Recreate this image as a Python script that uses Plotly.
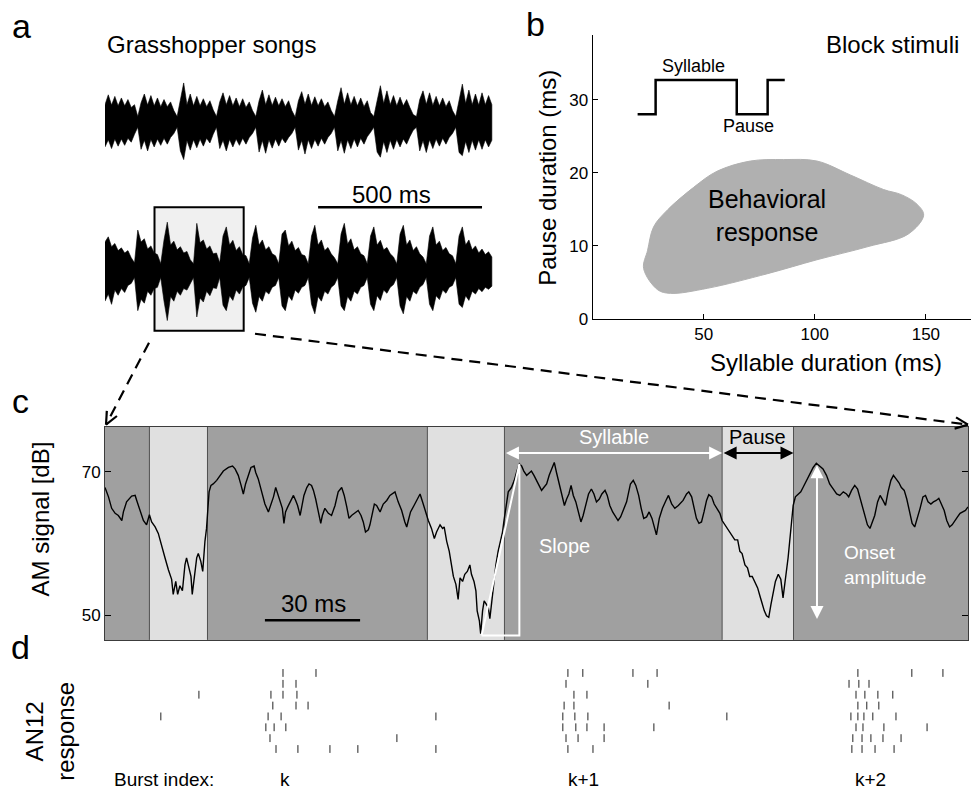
import math
import plotly.graph_objects as go

W, H = 971, 799
FONT = "Liberation Sans, Arial, Helvetica, sans-serif"


def px(x):
    return x / W


def py(y):
    return 1 - y / H


# ---------------- panel a: song envelopes (relative amplitude, 10 ms bins) ----
SAMPLE_MS = 10
song1_upper = [
    0.45, 0.70, 0.44, 0.66, 0.42, 0.62, 0.42, 0.58, 0.38, 0.45,
    0.15,
    0.50, 0.72, 0.44, 0.68, 0.42, 0.62, 0.40, 0.58, 0.40, 0.52, 0.30,
    0.15,
    0.55, 1.00, 0.45, 0.72, 0.42, 0.66, 0.42, 0.60, 0.40, 0.55, 0.32,
    0.15,
    0.52, 0.75, 0.45, 0.68, 0.42, 0.62, 0.40, 0.60, 0.38, 0.52, 0.30,
    0.15,
    0.55, 0.82, 0.45, 0.70, 0.43, 0.64, 0.42, 0.60, 0.40, 0.55, 0.30,
    0.14,
    0.55, 0.78, 0.46, 0.72, 0.43, 0.65, 0.42, 0.60, 0.40, 0.52, 0.30,
    0.15,
    0.55, 0.88, 0.46, 0.75, 0.44, 0.66, 0.42, 0.62, 0.40, 0.55, 0.25,
    0.15,
    0.55, 0.93, 0.48, 0.80, 0.45, 0.68, 0.42, 0.64, 0.42, 0.58, 0.38, 0.20,
    0.15,
    0.58, 0.80, 0.46, 0.75, 0.43, 0.66, 0.42, 0.62, 0.40, 0.55, 0.30,
    0.15,
    0.60, 0.97, 0.48, 0.82, 0.45, 0.72, 0.44, 0.75, 0.45, 0.68, 0.45,
]
song1_lower = [
    -0.62, -0.44, -0.66, -0.42, -0.60, -0.42, -0.58, -0.40, -0.50, -0.30,
    -0.12,
    -0.68, -0.45, -0.72, -0.43, -0.62, -0.42, -0.58, -0.40, -0.55, -0.38, -0.28,
    -0.12,
    -0.72, -0.94, -0.46, -0.70, -0.44, -0.64, -0.42, -0.60, -0.40, -0.52, -0.30,
    -0.12,
    -0.66, -0.45, -0.72, -0.43, -0.62, -0.42, -0.58, -0.40, -0.55, -0.38, -0.28,
    -0.12,
    -0.75, -0.46, -0.78, -0.44, -0.65, -0.42, -0.60, -0.40, -0.52, -0.38, -0.28,
    -0.12,
    -0.70, -0.46, -0.80, -0.44, -0.66, -0.43, -0.60, -0.40, -0.55, -0.38, -0.28,
    -0.12,
    -0.72, -0.46, -0.78, -0.44, -0.66, -0.42, -0.62, -0.40, -0.55, -0.36, -0.25,
    -0.12,
    -0.75, -0.88, -0.48, -0.76, -0.45, -0.68, -0.43, -0.62, -0.42, -0.55, -0.36, -0.20,
    -0.12,
    -0.72, -0.46, -0.76, -0.44, -0.66, -0.42, -0.60, -0.40, -0.55, -0.38, -0.28,
    -0.12,
    -0.76, -0.84, -0.48, -0.76, -0.45, -0.70, -0.44, -0.68, -0.44, -0.62, -0.45,
]
song2_upper = [
    0.70, 0.83, 0.58, 0.66, 0.48, 0.55, 0.42, 0.48, 0.30,
    0.17,
    1.00, 0.70, 0.78, 0.52, 0.60, 0.42, 0.38,
    0.15,
    0.75, 1.20, 0.62, 0.72, 0.50, 0.58, 0.42, 0.46, 0.25,
    0.15,
    1.17, 0.68, 0.75, 0.52, 0.60, 0.40, 0.42,
    0.17,
    0.85, 1.08, 0.62, 0.74, 0.48, 0.58, 0.38, 0.35,
    0.15,
    0.80, 1.12, 0.62, 0.75, 0.50, 0.58, 0.40, 0.35,
    0.15,
    0.90, 1.00, 0.60, 0.72, 0.48, 0.56, 0.38, 0.35,
    0.15,
    0.85, 1.12, 0.62, 0.75, 0.48, 0.56, 0.40, 0.30,
    0.15,
    0.90, 1.17, 0.65, 0.78, 0.50, 0.58, 0.40, 0.35,
    0.15,
    0.85, 1.08, 0.62, 0.74, 0.50, 0.56, 0.40, 0.32,
    0.15,
    0.90, 1.12, 0.62, 0.75, 0.48, 0.58, 0.40, 0.32,
    0.15,
    0.85, 1.08, 0.62, 0.72, 0.48, 0.56, 0.40, 0.35,
    0.15,
    0.85, 1.08, 0.62, 0.75, 0.50, 0.60, 0.42, 0.52, 0.38, 0.45, 0.32,
]
song2_lower = [
    -0.80, -0.62, -0.88, -0.52, -0.65, -0.48, -0.58, -0.40, -0.35,
    -0.20,
    -1.04, -0.75, -0.85, -0.55, -0.65, -0.48, -0.45,
    -0.20,
    -0.80, -1.29, -0.68, -0.80, -0.55, -0.65, -0.48, -0.52, -0.35,
    -0.20,
    -1.20, -0.72, -0.82, -0.55, -0.66, -0.46, -0.48,
    -0.20,
    -0.90, -1.04, -0.66, -0.78, -0.52, -0.62, -0.45, -0.40,
    -0.20,
    -0.85, -1.08, -0.68, -0.80, -0.55, -0.62, -0.45, -0.40,
    -0.20,
    -0.92, -1.04, -0.66, -0.78, -0.52, -0.60, -0.45, -0.40,
    -0.20,
    -0.88, -1.12, -0.68, -0.80, -0.55, -0.62, -0.45, -0.38,
    -0.20,
    -0.92, -1.04, -0.68, -0.80, -0.55, -0.62, -0.45, -0.40,
    -0.20,
    -0.88, -1.04, -0.66, -0.78, -0.52, -0.60, -0.45, -0.38,
    -0.20,
    -0.92, -1.12, -0.68, -0.80, -0.55, -0.62, -0.45, -0.38,
    -0.20,
    -0.88, -1.04, -0.66, -0.76, -0.52, -0.60, -0.45, -0.40,
    -0.20,
    -0.88, -0.96, -0.66, -0.78, -0.55, -0.62, -0.48, -0.56, -0.45, -0.50, -0.42,
]
song_offsets = [-1.6, -5.325]          # vertical placement of the two songs
zoom_window_ms = [151, 423]           # excerpt shown enlarged in panel c
scalebar_a_ms = [650, 1150]

# ---------------- panel b: behavioural response region -----------------------
blob_syllable_ms = [23, 24.8, 27.5, 33.7, 45.5, 56, 71, 86, 101, 116, 131,
                    139, 146, 149, 142, 124, 101, 78.8, 51.8, 35, 29.3]
blob_pause_ms = [6.9, 9.4, 12.6, 14.9, 18, 20.2, 21.6, 21.8, 21.6, 19.7, 17.7,
                 17, 15.7, 14.2, 11.6, 9.9, 8.1, 6.2, 4.2, 3.5, 4.0]
block_x = [20.3, 28.4, 28.4, 64.9, 64.9, 78.8, 78.8, 86.5]
block_y = [28, 28, 32.7, 32.7, 28, 28, 32.7, 32.7]

# ---------------- panel c: AM signal ----------------------------------------
am_time_ms = [
    0.0, 1.1, 2.1, 3.2, 4.2, 5.3, 5.8, 6.8, 8.4, 9.5, 10.0, 11.0, 12.1, 13.1,
    14.0, 14.7, 15.8, 16.8, 17.9, 18.9, 20.0, 21.0, 21.5, 22.3, 22.9, 23.6,
    24.4, 25.2, 25.7, 26.5, 27.1, 27.5, 28.2, 28.9, 29.4, 30.2, 30.8, 31.1,
    31.5, 32.0, 32.4, 32.8, 33.4, 34.1, 35.2, 36.2, 37.3, 38.9, 40.2, 41.0,
    42.0, 42.9, 43.6, 44.3, 45.2, 46.0, 47.0, 47.5, 48.3, 49.4, 50.4, 51.5,
    52.2, 53.1, 53.8, 54.4, 55.2, 55.9, 56.4, 56.9, 57.6, 58.3, 59.4, 60.1,
    60.7, 61.5, 62.0, 62.7, 63.6, 64.3, 65.1, 65.7, 66.4, 67.2, 68.0, 68.5,
    69.3, 70.4, 71.4, 72.5, 73.5, 74.6, 75.4, 76.2, 76.9, 77.7, 78.8, 79.8,
    80.7, 81.4, 82.1, 83.0, 83.5, 84.0, 84.9, 85.6, 86.7, 87.7, 88.8, 89.8,
    91.4, 92.4, 93.5, 94.5, 95.1, 95.6, 96.3, 97.4, 98.2, 99.3, 100.3, 101.1,
    101.9, 102.9, 103.8, 104.5, 105.6, 106.4, 106.9, 107.7, 108.5, 109.2,
    109.8, 110.6, 111.3, 111.9, 112.7, 113.4, 114.2, 115.0, 115.5, 116.3,
    116.9, 117.3, 118.0, 118.4, 119.0, 119.5, 120.3, 120.8, 121.3, 121.8,
    122.6, 123.2, 123.9, 124.7, 125.3, 125.7, 126.4, 127.1, 128.1, 129.0,
    129.7, 130.6, 131.3, 132.0, 132.9, 133.7, 134.4, 135.2, 136.0, 136.9,
    137.6, 138.3, 139.2, 140.0, 140.9, 141.6, 142.3, 143.2, 144.0, 144.8,
    145.5, 146.2, 146.9, 147.6, 148.4, 149.2, 150.0, 150.7, 151.6, 152.4,
    153.3, 154.1, 154.9, 155.8, 156.6, 157.6, 158.3, 159.1, 160.0, 160.8,
    161.7, 162.5, 163.3, 164.4, 165.6, 166.5, 167.3, 168.2, 169.0, 169.8,
    170.7, 171.5, 172.4, 173.2, 173.8, 174.7, 175.7, 176.8, 177.6, 178.6,
    179.6, 180.7, 182.2, 183.3, 184.0, 184.9, 185.7, 186.4, 187.2, 188.0,
    188.8, 189.6, 190.3, 191.2, 192.0, 192.8, 193.8, 194.5, 195.4, 196.4,
    197.5, 198.5, 199.4, 200.1, 200.8, 201.7, 202.5, 203.2, 204.0, 204.8,
    205.7, 206.4, 207.1, 207.8, 208.5, 209.2, 209.9, 210.6, 211.3, 212.2,
    213.0, 213.7, 214.3, 214.8, 215.3, 215.8, 216.4, 216.9, 217.6, 218.5,
    219.3, 220.0, 221.1, 222.1, 223.2, 224.2, 225.3, 226.3, 227.4, 228.4,
    229.5, 230.6, 231.6, 232.7, 233.7, 234.4, 235.3, 236.3, 237.2, 237.9,
    238.6, 239.5, 240.3, 241.1, 241.8, 242.6, 243.5, 244.3, 245.2, 246.0,
    246.8, 247.7, 248.5, 249.4, 250.2, 251.0, 251.9, 252.7, 253.6, 254.4,
    255.2, 256.1, 256.9, 257.8, 258.6, 259.4, 260.3, 261.1, 262.0, 262.8,
    263.6, 264.5, 265.3, 266.2, 267.0, 267.8, 268.7, 269.5, 270.4, 271.2,
    272.0,
]
am_level_db = [
    67.8, 66.5, 64.9, 64.2, 63.9, 63.2, 64.4, 65.8, 66.6, 66.7, 66.0, 64.6, 63.2, 62.6,
    64.0, 63.0, 62.3, 61.4, 59.8, 58.0, 56.3, 55.0, 52.9, 54.7, 52.9, 54.1,
    53.4, 57.0, 58.0, 56.6, 55.4, 52.9, 55.2, 58.0, 58.6, 57.5, 56.1, 58.6,
    60.3, 62.1, 65.1, 67.2, 68.1, 68.3, 68.8, 69.5, 70.1, 70.6, 70.8, 70.4,
    69.5, 68.1, 66.9, 68.3, 69.5, 70.6, 70.8, 69.9, 69.0, 67.2, 65.5, 64.4,
    65.3, 66.5, 67.8, 66.9, 65.8, 64.9, 62.8, 64.4, 65.1, 65.8, 66.7, 66.0,
    65.3, 63.9, 65.3, 66.7, 67.8, 68.3, 68.1, 67.4, 66.2, 64.4, 62.8, 63.9,
    64.9, 64.2, 63.9, 65.3, 67.2, 67.8, 66.7, 65.1, 63.5, 63.9, 64.3, 64.6,
    63.9, 63.0, 61.6, 61.9, 62.6, 63.7, 65.5, 65.3, 64.4, 65.5, 66.0, 66.7,
    67.2, 65.8, 64.6, 63.0, 62.3, 63.2, 64.4, 65.3, 66.0, 66.9, 65.5, 64.2,
    63.2, 62.1, 60.7, 61.6, 62.6, 62.1, 62.3, 60.3, 58.9, 57.0,
    55.4, 54.3, 52.2, 55.2, 54.7, 55.7, 56.1, 57.0, 55.7, 54.7,
    53.4, 50.6, 49.2, 47.4, 50.6, 52.0, 51.5, 51.1, 49.5, 51.5,
    54.7, 57.0, 58.9, 60.3, 61.6, 63.0, 65.3, 67.2, 67.8, 68.8,
    69.9, 71.1, 70.8, 70.1, 69.5, 69.9, 70.1, 69.5, 68.8, 68.1,
    67.4, 67.8, 68.3, 69.5, 70.6, 71.3, 69.9, 68.1, 66.5, 65.3,
    66.2, 66.9, 68.1, 66.7, 65.8, 64.2, 63.0, 63.9, 65.3, 66.9,
    67.6, 66.9, 65.8, 66.2, 66.9, 67.4, 66.7, 65.3, 64.4, 63.9,
    63.2, 63.7, 64.6, 65.8, 68.3, 68.8, 68.1, 66.7, 64.9, 63.5,
    63.7, 64.4, 63.5, 62.3, 61.2, 63.5, 64.9, 66.0, 66.7, 65.5,
    64.9, 65.3, 66.0, 66.9, 67.2, 66.5, 64.9, 63.5, 62.8, 63.0,
    64.4, 66.0, 66.8, 66.5, 65.5, 64.9, 64.2, 63.2, 62.6, 61.9,
    61.2, 60.5, 60.5, 58.9, 58.6, 57.0, 56.6, 55.4, 55.4, 54.7,
    53.8, 52.7, 51.5, 50.6, 49.9, 49.7, 51.5, 52.9, 54.7, 55.7,
    55.0, 52.4, 54.3, 56.1, 58.0, 60.3, 63.5, 65.3, 66.5, 66.9,
    67.2, 67.8, 68.8, 69.7, 70.6, 71.2, 70.8, 70.4, 69.5, 68.3,
    67.6, 66.9, 66.7, 67.2, 66.9, 66.5, 67.4, 68.1, 67.6, 66.5,
    65.3, 63.9, 62.6, 62.1, 63.0, 63.9, 65.8, 66.7, 66.0, 65.3,
    67.2, 68.8, 69.5, 69.0, 68.5, 67.8, 67.4, 66.2, 64.4, 62.8,
    62.3, 63.5, 64.9, 66.5, 66.7, 65.8, 65.5, 65.8, 66.0, 66.3,
    65.5, 64.6, 63.2, 62.3, 62.6, 63.2, 63.7, 64.2, 64.4, 64.6,
    65.1,
]
pause_start_ms = [14.0, 101.6, 194.5]
pause_end_ms = [32.3, 125.9, 217.0]
slope_ms = [118.7, 130.6]
slope_db = [47.15, 71.1]
onset_ms = 224.4
onset_db = [71.1, 49.45]
scalebar_c_ms = [50.4, 80.4]

# ---------------- panel d: AN12 spike raster ----------------------------------
spike_times_ms = [
    [56.1, 66.5, 145.9, 150.6, 166.4, 174.0, 237.3, 254.3, 264.1],
    [56.1, 60.2, 145.3, 171.1, 234.5, 237.6, 240.8],
    [29.6, 52.3, 56.1, 60.5, 147.8, 151.9, 236.7, 239.5, 243.6, 248.3],
    [52.9, 60.2, 64.0, 144.7, 147.8, 177.8, 237.3, 240.1, 243.9],
    [17.6, 51.4, 55.5, 104.3, 144.3, 148.1, 152.2, 196.0, 235.1, 237.3, 239.2, 242.0, 249.3],
    [50.7, 53.3, 57.0, 144.3, 148.4, 151.9, 157.3, 173.0, 236.7, 238.9, 245.5, 259.1],
    [52.0, 92.0, 145.3, 149.1, 157.3, 235.7, 238.6, 241.4, 245.2, 250.9],
    [53.9, 60.8, 70.9, 79.7, 104.3, 145.9, 153.8, 235.4, 238.6, 242.7, 248.7],
]
burst_labels = ["k", "k+1", "k+2"]
burst_label_ms = [54.5, 145.3, 235.7]

DARK = "rgb(160,160,160)"
LIGHT = "rgb(224,224,224)"

fig = go.Figure()

# ---- panel a traces
for upper, lower, off in [(song1_upper, song1_lower, song_offsets[0]),
                          (song2_upper, song2_lower, song_offsets[1])]:
    t = [i * SAMPLE_MS for i in range(len(upper))]
    xs = t + t[::-1]
    ys = [off + v for v in upper] + [off + v for v in lower[::-1]]
    fig.add_trace(go.Scatter(x=xs, y=ys, mode="lines", fill="toself",
                             fillcolor="black", line=dict(color="black", width=0.6),
                             xaxis="x", yaxis="y", hoverinfo="skip"))

# ---- panel b traces
fig.add_trace(go.Scatter(x=blob_syllable_ms + blob_syllable_ms[:1],
                         y=blob_pause_ms + blob_pause_ms[:1],
                         mode="lines", fill="toself", fillcolor="rgb(176,176,176)",
                         line=dict(color="rgb(176,176,176)", width=1, shape="spline", smoothing=1.0),
                         xaxis="x2", yaxis="y2", hoverinfo="skip"))
fig.add_trace(go.Scatter(x=block_x, y=block_y, mode="lines",
                         line=dict(color="black", width=2.5),
                         xaxis="x2", yaxis="y2", hoverinfo="skip"))

# ---- panel c traces
fig.add_trace(go.Scatter(x=am_time_ms, y=am_level_db, mode="lines",
                         line=dict(color="black", width=1.4),
                         xaxis="x3", yaxis="y3", hoverinfo="skip"))
fig.add_trace(go.Scatter(x=[slope_ms[0], slope_ms[1], slope_ms[1], slope_ms[0]],
                         y=[slope_db[0], slope_db[1], slope_db[0], slope_db[0]],
                         mode="lines", line=dict(color="white", width=2),
                         xaxis="x3", yaxis="y3", hoverinfo="skip"))
fig.add_trace(go.Scatter(x=scalebar_c_ms, y=[49.3, 49.3], mode="lines",
                         line=dict(color="black", width=2.5),
                         xaxis="x3", yaxis="y3", hoverinfo="skip"))

# ---- panel d raster
rx, ry = [], []
for row, times in enumerate(spike_times_ms, start=1):
    for t in times:
        rx += [t, t, None]
        ry += [row - 0.36, row + 0.36, None]
fig.add_trace(go.Scatter(x=rx, y=ry, mode="lines", line=dict(color="#222", width=1),
                         xaxis="x4", yaxis="y4", hoverinfo="skip"))

shapes = []
# zoom box and scale bar in panel a
shapes.append(dict(type="rect", xref="x", yref="y", x0=zoom_window_ms[0], x1=zoom_window_ms[1],
                   y0=-3.75, y1=-6.875, fillcolor="rgb(240,240,240)",
                   line=dict(color="black", width=2), layer="below"))
shapes.append(dict(type="line", xref="x", yref="y", x0=scalebar_a_ms[0], x1=scalebar_a_ms[1],
                   y0=-3.75, y1=-3.75, line=dict(color="black", width=2.5)))

# panel c background: syllables dark, pauses light
shapes.append(dict(type="rect", xref="x3", yref="y3", x0=0, x1=272, y0=46.55, y1=76.3,
                   fillcolor=DARK, line=dict(width=0), layer="below"))
for s, e in zip(pause_start_ms, pause_end_ms):
    shapes.append(dict(type="rect", xref="x3", yref="y3", x0=s, x1=e, y0=46.55, y1=76.3,
                       fillcolor=LIGHT, line=dict(width=0), layer="below"))
    for b in (s, e):
        shapes.append(dict(type="line", xref="x3", yref="y3", x0=b, x1=b, y0=46.55, y1=76.3,
                           line=dict(color="rgb(80,80,80)", width=1), layer="below"))


# dashed connector arrows (drawn in pixel space, converted to paper)
def dashed_arrow(tail, tip, head_len=14, spread=24):
    out = [dict(type="line", xref="paper", yref="paper",
                x0=px(tail[0]), y0=py(tail[1]), x1=px(tip[0]), y1=py(tip[1]),
                line=dict(color="black", width=2.2, dash="11px,7px"))]
    ang = math.atan2(tip[1] - tail[1], tip[0] - tail[0])
    for sgn in (1, -1):
        a = ang + math.pi + sgn * math.radians(spread)
        ex, ey = tip[0] + head_len * math.cos(a), tip[1] + head_len * math.sin(a)
        out.append(dict(type="line", xref="paper", yref="paper",
                        x0=px(tip[0]), y0=py(tip[1]), x1=px(ex), y1=py(ey),
                        line=dict(color="black", width=2.2)))
    return out


shapes += dashed_arrow((149, 347), (106, 430))
shapes += dashed_arrow((255, 338), (968, 430))

ann = []


def text(x, y, s, size, xanchor="center", yanchor="middle", color="black", angle=0,
         xref="paper", yref="paper", align="center"):
    ann.append(dict(x=x, y=y, xref=xref, yref=yref, text=s, showarrow=False,
                    xanchor=xanchor, yanchor=yanchor, textangle=angle, align=align,
                    font=dict(family=FONT, size=size, color=color)))


# panel letters
text(px(21), py(26), "a", 34)
text(px(535), py(24), "b", 34)
text(px(20), py(406), "c", 34)
text(px(20), py(655), "d", 34)

# panel a
text(px(105), py(45), "Grasshopper songs", 24, xanchor="left")
text(875, -3.42, "500 ms", 24, xref="x", yref="y")

# panel b
text(px(961), py(45), "Block stimuli", 24, xanchor="right")
text(45.5, 34.6, "Syllable", 18, xref="x2", yref="y2")
text(70.3, 26.4, "Pause", 18, xref="x2", yref="y2")
text(78.6, 14.2, "Behavioral<br>response", 25, xref="x2", yref="y2")
text(px(548), py(180), "Pause duration (ms)", 24, angle=-90)
text(px(826), py(367), "Syllable duration (ms)", 24)

# panel c
text(px(40), py(526), "AM signal [dB]", 24, angle=-90)
text(65.6, 51.6, "30 ms", 24, xref="x3", yref="y3")
text(160.5, 74.8, "Syllable", 20, xref="x3", yref="y3", color="white")
text(205.8, 74.8, "Pause", 20, xref="x3", yref="y3")
text(144.7, 59.7, "Slope", 20, xref="x3", yref="y3", color="white")
text(232.3, 57.0, "Onset<br>amplitude", 19, xref="x3", yref="y3", color="white",
     xanchor="left", align="left")


def double_arrow(x0, y0, x1, y1, color):
    ann.append(dict(x=x1, y=y1, ax=x0, ay=y0, xref="x3", yref="y3", axref="x3", ayref="y3",
                    text="", showarrow=True, arrowside="end+start", arrowhead=2,
                    startarrowhead=2, arrowsize=1.3, startarrowsize=1.3, arrowwidth=2,
                    arrowcolor=color, standoff=0, startstandoff=0))


double_arrow(pause_end_ms[1], 72.6, pause_start_ms[2], 72.6, "white")
double_arrow(pause_start_ms[2], 72.6, pause_end_ms[2], 72.6, "black")
double_arrow(onset_ms, onset_db[0], onset_ms, onset_db[1], "white")

# panel d
text(px(50), py(741), "AN12<br>response", 24, angle=-90)
text(px(112), py(789), "Burst index:", 19, xanchor="left")
for lab, t in zip(burst_labels, burst_label_ms):
    text(t, py(789), lab, 19, xanchor="left", xref="x4")

axis_font = dict(family=FONT, size=17, color="black")
fig.update_layout(
    width=W, height=H, margin=dict(l=0, r=0, t=0, b=0),
    paper_bgcolor="white", plot_bgcolor="rgba(0,0,0,0)", showlegend=False,
    font=dict(family=FONT, color="black"),
    xaxis=dict(domain=[px(105), px(493)], range=[0, 1183.5], visible=False, anchor="y"),
    yaxis=dict(domain=[py(340), py(60)], range=[-7, 0], visible=False, anchor="x"),
    xaxis2=dict(domain=[px(592.5), 1.0], range=[0, 170.3], anchor="y2",
                showline=True, linecolor="black", linewidth=1, ticks="inside", ticklen=5,
                tickcolor="black", tickvals=[50, 100, 150], tickfont=axis_font,
                showgrid=False, zeroline=False),
    yaxis2=dict(domain=[py(323), py(35)], range=[0, 38.9], anchor="x2",
                showline=True, linecolor="black", linewidth=1, ticks="inside", ticklen=5,
                tickcolor="black", tickvals=[0, 10, 20, 30], tickfont=axis_font,
                showgrid=False, zeroline=False),
    xaxis3=dict(domain=[px(105), px(968)], range=[0, 272], anchor="y3",
                showline=True, mirror=True, linecolor="rgb(60,60,60)", linewidth=1,
                showticklabels=False, ticks="", showgrid=False, zeroline=False),
    yaxis3=dict(domain=[py(648), py(432)], range=[46.55, 76.3], anchor="x3",
                showline=True, mirror="ticks", linecolor="rgb(60,60,60)", linewidth=1,
                ticks="inside", ticklen=6, tickcolor="black", tickvals=[50, 70],
                tickfont=axis_font, showgrid=False, zeroline=False),
    xaxis4=dict(domain=[px(105), px(968)], range=[0, 272], visible=False, anchor="y4"),
    yaxis4=dict(domain=[py(764), py(676)], range=[8.5, 0.5], visible=False, anchor="x4"),
    shapes=shapes,
    annotations=ann,
)

fig.write_html("out.html")
